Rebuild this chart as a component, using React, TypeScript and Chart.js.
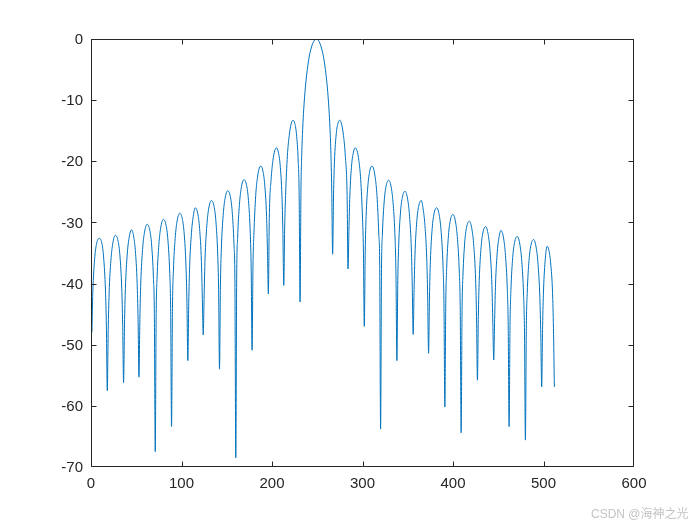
import React, { useEffect, useRef } from "react";
import { Chart, registerables } from "chart.js";

Chart.register(...registerables);

// Axis ticks
const xTickValues = [0, 100, 200, 300, 400, 500, 600];
const yTickValues = [0, -10, -20, -30, -40, -50, -60, -70];

// Left side lobes (sample index / level in dB)
const leftIdx = [
  1, 2, 4, 6, 9, 12, 14, 16, 17, 18,
  19, 20, 22, 24, 27, 30, 32, 34, 35, 36,
  37, 38, 40, 42, 45, 47, 49, 51, 52, 53,
  54, 55, 57, 59, 62, 65, 67, 69, 70, 71,
  72, 73, 75, 77, 80, 83, 85, 87, 88, 89,
  90, 91, 93, 95, 98, 101, 103, 105, 106, 107,
  108, 109, 111, 113, 115, 118, 120, 122, 123, 124,
  125, 126, 128, 130, 133, 136, 138, 140, 141, 142,
  143, 144, 146, 148, 151, 154, 156, 158, 159, 160,
  161, 162, 164, 166, 169, 172, 174, 176, 177, 178,
  179, 180, 182, 184, 186, 188, 190, 192, 194, 195, 196,
  197, 199, 201, 203, 205, 207, 209, 211, 212, 213,
  214, 215, 217, 219, 221, 223, 225, 227, 229, 230, 231,
];
const leftDb = [
  -48.0, -41.5, -36.0, -33.6, -32.6, -33.4, -35.8, -41.2, -47.0, -57.5,
  -47.7, -41.7, -36.2, -33.5, -32.1, -33.1, -35.5, -40.9, -46.7, -56.2,
  -46.8, -40.8, -35.3, -32.6, -31.2, -32.2, -34.6, -40.0, -45.8, -55.3,
  -45.9, -39.9, -34.4, -31.7, -30.3, -31.3, -33.7, -39.1, -44.9, -67.5,
  -45.1, -39.1, -33.6, -30.9, -29.5, -30.5, -32.9, -38.3, -44.1, -63.4,
  -44.1, -38.1, -32.6, -29.9, -28.5, -29.5, -31.9, -37.3, -43.1, -52.6,
  -43.2, -37.2, -31.7, -29.0, -27.6, -28.6, -31.0, -36.4, -42.2, -48.4,
  -42.0, -36.0, -30.5, -27.8, -26.4, -27.4, -29.8, -35.2, -41.0, -54.0,
  -40.4, -34.4, -28.9, -26.2, -24.8, -25.8, -28.2, -33.6, -39.4, -68.5,
  -38.6, -32.6, -27.1, -24.4, -23.0, -24.0, -26.4, -31.8, -37.6, -50.9,
  -37.0, -31.9, -25.6, -22.6, -21.1, -20.8, -21.6, -23.9, -29.0, -34.8, -41.7,
  -29.3, -23.0, -19.9, -18.3, -17.8, -18.5, -20.6, -25.7, -31.3, -40.3,
  -30.9, -25.6, -19.1, -15.8, -14.0, -13.3, -13.7, -15.5, -20.1, -25.5, -43.0,
];

// Main lobe
const mainIdx = [232, 233, 234, 235, 237, 239, 241, 243, 245, 247, 249, 251, 253, 255, 257, 259, 261, 263, 264, 265, 266, 267];
const mainDb = [-24.7, -18.2, -14.4, -11.6, -7.7, -5.0, -3.0, -1.65, -0.72, -0.18, 0, -0.18, -0.72, -1.65, -3.0, -5.0, -7.7, -11.6, -14.4, -18.2, -24.7, -35.2];

// Right side lobes
const rightIdx = [
  268, 269, 271, 273, 275, 277, 279, 281, 283, 284,
  285, 286, 288, 290, 292, 294, 296, 298, 300, 301, 302,
  303, 304, 306, 308, 310, 312, 314, 316, 318, 319, 320,
  321, 322, 324, 326, 329, 332, 334, 336, 337, 338,
  339, 340, 342, 344, 347, 350, 352, 354, 355, 356,
  357, 358, 360, 362, 365, 367, 369, 371, 372, 373,
  374, 375, 377, 379, 382, 385, 387, 389, 390, 391,
  392, 393, 395, 397, 400, 403, 405, 407, 408, 409,
  410, 411, 413, 415, 418, 421, 423, 425, 426, 427,
  428, 429, 431, 433, 436, 439, 441, 443, 444, 445,
  446, 447, 449, 451, 453, 456, 458, 460, 461, 462,
  463, 464, 466, 468, 471, 474, 476, 478, 479, 480,
  481, 482, 484, 486, 489, 492, 494, 496, 497, 498,
  499, 500, 502, 504, 506, 508, 510, 511, 512,
];
const rightDb = [
  -25.5, -20.1, -15.5, -13.7, -13.3, -14.0, -15.8, -19.1, -25.6, -37.6,
  -31.3, -25.7, -20.6, -18.5, -17.8, -18.3, -19.9, -23.0, -29.3, -34.5, -47.0,
  -34.8, -29.0, -23.9, -21.6, -20.8, -21.1, -22.6, -25.6, -31.9, -37.0, -63.8,
  -37.7, -31.9, -26.5, -24.1, -23.1, -24.5, -27.2, -32.7, -38.7, -52.6,
  -39.5, -33.7, -28.3, -25.9, -24.9, -26.3, -29.0, -34.5, -40.5, -48.3,
  -41.0, -35.2, -29.8, -27.4, -26.4, -27.8, -30.5, -36.0, -42.0, -51.4,
  -42.2, -36.4, -31.0, -28.6, -27.6, -29.0, -31.7, -37.2, -43.2, -60.2,
  -43.3, -37.5, -32.1, -29.7, -28.7, -30.1, -32.8, -38.3, -44.3, -64.4,
  -44.4, -38.6, -33.2, -30.8, -29.8, -31.2, -33.9, -39.4, -45.4, -55.8,
  -45.3, -39.5, -34.1, -31.7, -30.7, -32.1, -34.8, -40.3, -46.3, -52.5,
  -45.9, -40.1, -34.7, -32.3, -31.3, -32.7, -35.4, -40.9, -46.9, -63.4,
  -46.9, -41.1, -35.7, -33.3, -32.3, -33.7, -36.4, -41.9, -47.9, -65.6,
  -47.4, -41.6, -36.2, -33.8, -32.8, -34.2, -36.9, -42.4, -48.4, -56.9,
  -47.0, -41.2, -35.9, -33.9, -34.6, -36.8, -41.5, -47.3, -56.9,
];

const AXIS_COLOR = "#262626";
const LINE_COLOR = "#0072BD";
const FONT_FAMILY = '"Liberation Sans", Arial, Helvetica, sans-serif';

const framePlugin = {
  id: "matlabFrame",
  afterDatasetsDraw(chart: any) {
    const { ctx, chartArea: a, scales } = chart;
    const L = Math.floor(a.left) + 0.5;
    const R = Math.ceil(a.right) - 0.5;
    const T = Math.floor(a.top) + 0.5;
    const B = Math.ceil(a.bottom) - 0.5;
    const tl = 5;
    const clamp = (v: number, lo: number, hi: number) => Math.min(Math.max(v, lo), hi);
    ctx.save();
    ctx.strokeStyle = AXIS_COLOR;
    ctx.lineWidth = 1;
    ctx.beginPath();
    ctx.rect(L, T, R - L, B - T);
    for (const v of xTickValues) {
      const px = clamp(Math.round(scales.x.getPixelForValue(v)) + 0.5, L, R);
      ctx.moveTo(px, B);
      ctx.lineTo(px, B - tl);
      ctx.moveTo(px, T);
      ctx.lineTo(px, T + tl);
    }
    for (const v of yTickValues) {
      const py = clamp(Math.round(scales.y.getPixelForValue(v)) + 0.5, T, B);
      ctx.moveTo(L, py);
      ctx.lineTo(L + tl, py);
      ctx.moveTo(R, py);
      ctx.lineTo(R - tl, py);
    }
    ctx.stroke();
    ctx.restore();
  },
};

export default function App() {
  const canvasRef = useRef<HTMLCanvasElement>(null);

  useEffect(() => {
    const idx = [...leftIdx, ...mainIdx, ...rightIdx];
    const db = [...leftDb, ...mainDb, ...rightDb];
    const points = idx.map((x, i) => ({ x, y: db[i] }));

    const chart = new Chart(canvasRef.current as HTMLCanvasElement, {
      type: "line",
      data: {
        datasets: [
          {
            data: points,
            borderColor: LINE_COLOR,
            backgroundColor: LINE_COLOR,
            borderWidth: 1,
            pointRadius: 0,
            fill: false,
            cubicInterpolationMode: "monotone",
          },
        ],
      },
      options: {
        animation: false,
        responsive: false,
        devicePixelRatio: 1,
        events: [],
        layout: { padding: { left: 0, top: 39, right: 66, bottom: 0 } },
        plugins: {
          legend: { display: false },
          tooltip: { enabled: false },
        },
        scales: {
          x: {
            type: "linear",
            min: 0,
            max: 600,
            grid: { display: false, drawTicks: false },
            border: { display: false },
            ticks: {
              stepSize: 100,
              autoSkip: false,
              maxRotation: 0,
              padding: 8,
              color: AXIS_COLOR,
              font: { family: FONT_FAMILY, size: 15 },
            },
            afterFit: (s: any) => {
              s.height = 58;
            },
          },
          y: {
            type: "linear",
            min: -70,
            max: 0,
            grid: { display: false, drawTicks: false },
            border: { display: false },
            ticks: {
              stepSize: 10,
              autoSkip: false,
              padding: 8,
              labelOffset: 1,
              color: AXIS_COLOR,
              font: { family: FONT_FAMILY, size: 15 },
            },
            afterFit: (s: any) => {
              s.width = 91;
            },
          },
        },
      } as any,
      plugins: [framePlugin],
    });
    return () => chart.destroy();
  }, []);

  return (
    <div style={{ position: "fixed", left: 0, top: 0, width: 700, height: 525, background: "#ffffff" }}>
      <canvas ref={canvasRef} width={700} height={525} style={{ display: "block", width: 700, height: 525 }} />
      <div
        style={{
          position: "absolute",
          left: 591,
          top: 507,
          fontSize: 12,
          lineHeight: "14px",
          color: "#c4c4c4",
          fontFamily: '"Liberation Sans", Arial, "Noto Sans CJK SC", sans-serif',
          whiteSpace: "nowrap",
        }}
      >
        CSDN @海神之光
      </div>
    </div>
  );
}
